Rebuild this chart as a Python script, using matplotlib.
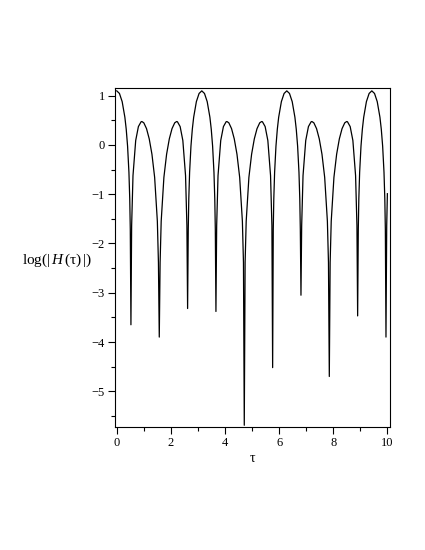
import matplotlib
matplotlib.use('Agg')
import matplotlib.pyplot as plt
from matplotlib.ticker import MultipleLocator

# values, tau -> log(|H(tau)|)
tau_p0 = [0.0, 0.1, 0.2, 0.3, 0.35, 0.4, 0.45, 0.48, 0.5, 0.524,
          0.55, 0.6, 0.7, 0.8, 0.9, 0.93, 1.0, 1.1, 1.2, 1.3, 1.4, 1.5, 1.54, 1.571,
          1.602, 1.642, 1.742, 1.842, 1.942, 2.042, 2.142, 2.212, 2.242, 2.342, 2.442, 2.542, 2.592, 2.618]
log_p0 = [1.099, 1.046, 0.880, 0.563, 0.319, -0.023, -0.555, -1.092, -1.716, -3.65,
          -1.638, -0.622, 0.091, 0.374, 0.472, 0.476, 0.450, 0.332, 0.124, -0.187, -0.657, -1.547, -2.384, -3.90,
          -2.384, -1.547, -0.657, -0.187, 0.124, 0.332, 0.450, 0.476, 0.472, 0.374, 0.091, -0.622, -1.638, -3.32]

tau_p1 = [2.642, 2.662, 2.692, 2.742, 2.792, 2.842, 2.942, 3.042, 3.142, 3.242, 3.342, 3.442, 3.492, 3.542, 3.592, 3.622, 3.642, 3.665,
          3.692, 3.742, 3.842, 3.942, 4.042, 4.072, 4.142, 4.242, 4.342, 4.442, 4.542, 4.642, 4.682, 4.712,
          4.743, 4.783, 4.883, 4.983, 5.083, 5.183, 5.283, 5.353, 5.383, 5.483, 5.583, 5.683, 5.733, 5.760]
log_p1 = [-1.716, -1.092, -0.555, -0.023, 0.319, 0.563, 0.880, 1.046, 1.099, 1.046, 0.880, 0.563, 0.319, -0.023, -0.555, -1.092, -1.716, -3.38,
          -1.638, -0.622, 0.091, 0.374, 0.472, 0.476, 0.450, 0.332, 0.124, -0.187, -0.657, -1.547, -2.384, -5.69,
          -2.384, -1.547, -0.657, -0.187, 0.124, 0.332, 0.450, 0.476, 0.472, 0.374, 0.091, -0.622, -1.638, -4.52]

tau_p2 = [5.783, 5.803, 5.833, 5.883, 5.933, 5.983, 6.083, 6.183, 6.283, 6.383, 6.483, 6.583, 6.633, 6.683, 6.733, 6.763, 6.783, 6.807,
          6.833, 6.883, 6.983, 7.083, 7.183, 7.213, 7.283, 7.383, 7.483, 7.583, 7.683, 7.783, 7.823, 7.854,
          7.885, 7.925, 8.025, 8.125, 8.225, 8.325, 8.425, 8.495, 8.525, 8.625, 8.725, 8.825, 8.875, 8.901]
log_p2 = [-1.716, -1.092, -0.555, -0.023, 0.319, 0.563, 0.880, 1.046, 1.099, 1.046, 0.880, 0.563, 0.319, -0.023, -0.555, -1.092, -1.716, -3.05,
          -1.638, -0.622, 0.091, 0.374, 0.472, 0.476, 0.450, 0.332, 0.124, -0.187, -0.657, -1.547, -2.384, -4.70,
          -2.384, -1.547, -0.657, -0.187, 0.124, 0.332, 0.450, 0.476, 0.472, 0.374, 0.091, -0.622, -1.638, -3.47]

tau_p3 = [8.925, 8.945, 8.975, 9.025, 9.075, 9.125, 9.225, 9.325, 9.425, 9.525, 9.625, 9.725, 9.775, 9.825, 9.875, 9.905, 9.925, 9.948,
          9.975, 10.0]
log_p3 = [-1.716, -1.092, -0.555, -0.023, 0.319, 0.563, 0.880, 1.046, 1.099, 1.046, 0.880, 0.563, 0.319, -0.023, -0.555, -1.092, -1.716, -3.90,
          -1.638, -0.989]

tau = tau_p0 + tau_p1 + tau_p2 + tau_p3
log_h = log_p0 + log_p1 + log_p2 + log_p3

plt.rcParams['font.family'] = ['Liberation Serif', 'DejaVu Serif']
plt.rcParams['mathtext.fontset'] = 'custom'
plt.rcParams['mathtext.rm'] = 'Liberation Serif'
plt.rcParams['mathtext.it'] = 'Liberation Serif:italic'

fig = plt.figure(figsize=(4.25, 5.5), dpi=100)
ax = fig.add_axes([0.27, 0.2236, 0.6476, 0.6164])
ax.plot(tau, log_h, color='black', lw=0.9)

ax.set_xlim(-0.074, 10.096)
ax.set_ylim(-5.726, 1.157)
ax.xaxis.set_major_locator(MultipleLocator(2))
ax.xaxis.set_minor_locator(MultipleLocator(1))
ax.yaxis.set_major_locator(MultipleLocator(1))
ax.yaxis.set_minor_locator(MultipleLocator(0.5))
ax.tick_params(which='both', direction='out', top=False, right=False, labelsize=9, width=0.8, pad=2)
ax.tick_params(which='major', length=5)
ax.tick_params(which='minor', length=3)
for s in ax.spines.values():
    s.set_linewidth(0.8)

ax.set_xlabel('τ', fontsize=10, labelpad=2)
fig.text(22 / 425, 1 - 260 / 550, r'$\mathrm{log}(|\,H\,(\mathrm{τ})\,|)$', fontsize=11, ha='left', va='center')

fig.savefig('out.png', dpi=100)
